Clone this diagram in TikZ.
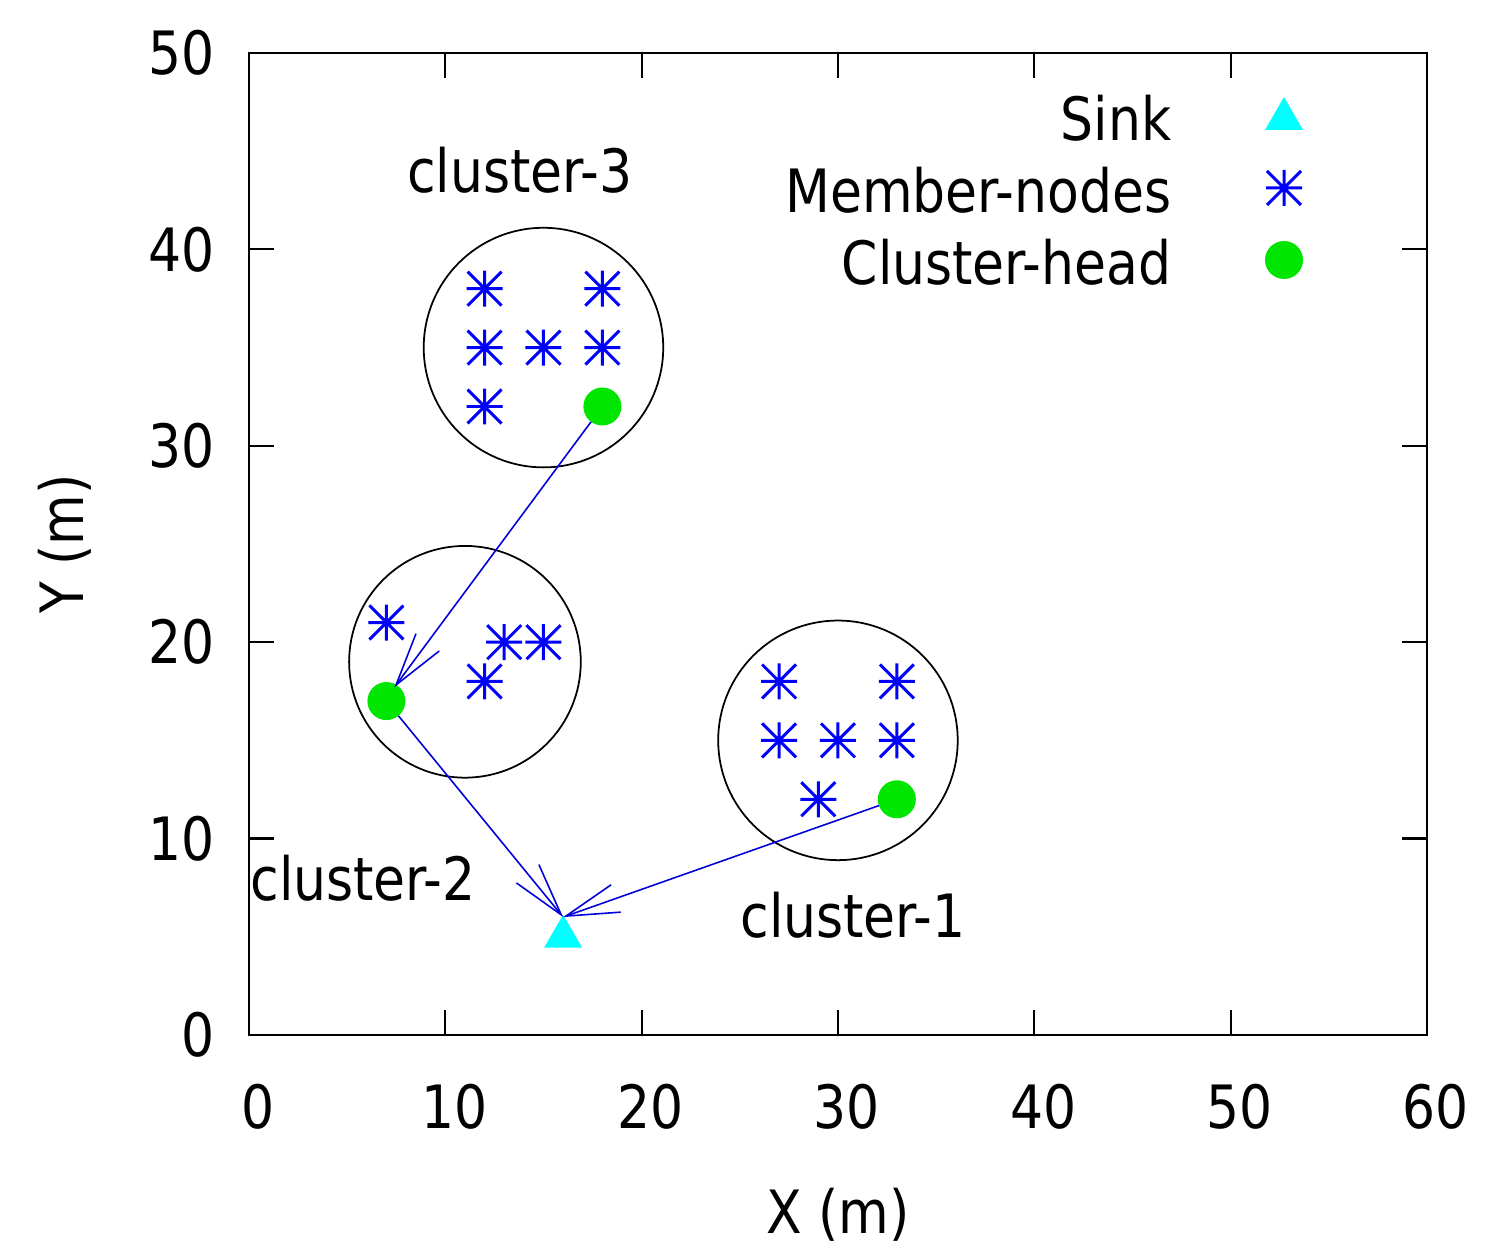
\documentclass[tikz,border=0pt]{standalone}
\usepackage{fontspec}
\setmainfont{DejaVu Sans}[FakeStretch=0.87]
\usetikzlibrary{arrows.meta}
\usetikzlibrary{shapes.geometric}
\usetikzlibrary{positioning}
\definecolor{headgreen}{RGB}{0,230,0}
\definecolor{sinkcyan}{RGB}{0,255,255}

\begin{document}
\begin{tikzpicture}[x=0.19633cm,y=0.1964cm,
		lbl/.style={font=\fontsize{17}{20}\selectfont,
				inner sep=0pt},
		head/.style={circle,
				fill=headgreen,
				minimum size=0.38cm,
				inner sep=0pt, outer sep=0pt},
		sink/.style={regular polygon,
				regular polygon sides=3,
				fill=sinkcyan,
				minimum size=0.44cm,
				inner sep=0pt, outer sep=0pt},
		zone/.style={draw=black, line width=0.5pt},
		link/.style={draw=blue!85!black, line width=0.45pt,
				-{Straight Barb[length=5.3mm,width=2.9mm]}},
		memb/.pic={\draw[blue, line width=0.85pt]
				(-0.18cm,0)--(0.18cm,0) (0,-0.18cm)--(0,0.18cm)
				(-0.17cm,-0.17cm)--(0.17cm,0.17cm) (-0.17cm,0.17cm)--(0.17cm,-0.17cm);}]
	\useasboundingbox (-12.683,-10.64) rectangle (63.06,52.70);
	% frame and ticks
	\draw[line width=0.6pt] (0,0) rectangle (60,50);
	\foreach \x in {10,20,...,50} {
		\draw[line width=0.6pt] (\x,0) -- (\x,1.27);
		\draw[line width=0.6pt] (\x,50) -- (\x,48.73);
	}
	\foreach \y in {10,20,...,40} {
		\draw[line width=0.6pt] (0,\y) -- (1.27,\y);
		\draw[line width=0.6pt] (60,\y) -- (58.73,\y);
	}
	\foreach \x in {0,10,...,60}
		\node[lbl] (xt\x) at (\x+0.45,-3.67) {\x};
	\foreach \y in {0,10,...,50}
		\node[lbl,anchor=east] (yt\y) at (-1.73,\y) {\y};
	\node[lbl] (xlab) at (30,-9.16) {X (m)};
	\node[lbl,rotate=90] (ylab) at (-9.37,25) {Y (m)};
	% clusters
	\draw[zone] (15,35) circle (6.1);
	\draw[zone] (11,19) circle (5.9);
	\draw[zone] (30,15) circle (6.1);
	\node[lbl] (c3) at (13.8,44.04) {cluster-3};
	\node[lbl] (c2) at (5.81,7.99) {cluster-2};
	\node[lbl] (c1) at (30.77,6.11) {cluster-1};
	\foreach \p in {(12,38),(18,38),(12,35),(15,35),(18,35),(12,32),
			(7,21),(13,20),(15,20),(12,18),
			(27,18),(33,18),(27,15),(30,15),(33,15),(29,12)}
		\pic at \p {memb};
	\node[head] (h3) at (18,32) {};
	\node[head] (h2) at (7,17) {};
	\node[head] (h1) at (33,12) {};
	\node[sink] (bs) at (16,5) {};
	\coordinate (h2tip) at (7.4,17.7);
	\coordinate (bstip) at (16,6);
	\draw[link] (h3) -- (h2tip);
	\draw[link] (h2) -- (bstip);
	\draw[link] (h1) -- (bstip);
	% legend
	\node[lbl,anchor=east] (legsink) at (47.02,46.69) {Sink};
	\node[lbl,anchor=east] (legmemb) at (47.02,43.02) {Member-nodes};
	\node[lbl,anchor=east] (leghead) at (47.02,39.36) {Cluster-head};
	\node[sink] (keysink) at (52.72,46.64) {};
	\pic at (52.72,43.13) {memb};
	\node[head] (keyhead) at (52.72,39.46) {};
\end{tikzpicture}
\end{document}
